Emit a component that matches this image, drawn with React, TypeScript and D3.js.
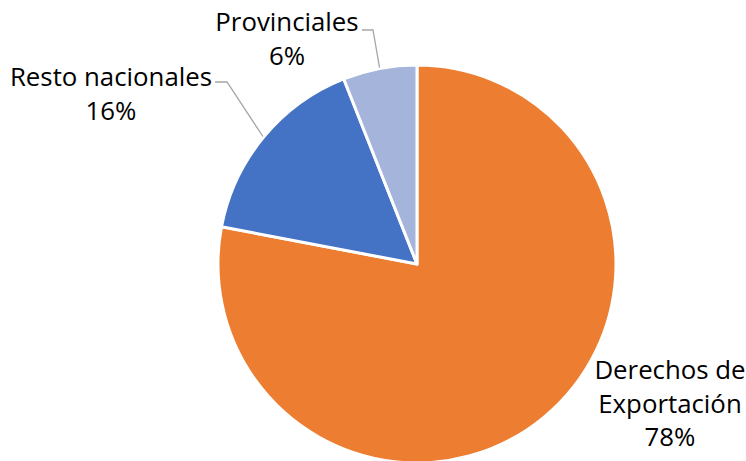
import React from "react";
import * as d3 from "d3";

const categories = ["Derechos de Exportación", "Resto nacionales", "Provinciales"];
const values = [78, 16, 6];
const colors = ["#ED7D31", "#4472C4", "#A5B4DB"];
const labelLines = [["Derechos de", "Exportación", "78%"], ["Resto nacionales", "16%"], ["Provinciales", "6%"]];
// label anchor (center x, first line center y) and leader elbow
const labelPos = [
  { x: 670, y: 370, elbow: null as null | [number, number], start: null as null | [number, number] },
  { x: 111, y: 77, elbow: [227, 82] as [number, number], start: [215, 82] as [number, number] },
  { x: 287, y: 22, elbow: [373, 30] as [number, number], start: [362, 30] as [number, number] },
];

export default function App() {
  const W = 746, H = 461;
  const cx = 417, cy = 264, r = 199;
  const pie = d3.pie<number>().sort(null).value((d) => d)(values);
  const arc = d3.arc<d3.PieArcDatum<number>>().innerRadius(0).outerRadius(r);
  const edge = d3.arc<d3.PieArcDatum<number>>().innerRadius(r + 1).outerRadius(r + 1);
  const fontFamily = "'Open Sans', sans-serif";
  const lh = 33.5;
  return (
    <svg width={W} height={H} style={{ position: "absolute", left: 0, top: 0, background: "#fff" }}>
      <g transform={`translate(${cx},${cy})`}>
        {pie.map((p, i) => (
          <path key={i} d={arc(p) || ""} fill={colors[i]} stroke="#fff" strokeWidth={3} strokeLinejoin="round" />
        ))}
      </g>
      {pie.map((p, i) => {
        const lp = labelPos[i];
        if (!lp.elbow || !lp.start) return null;
        const [ex, ey] = edge.centroid(p);
        return (
          <polyline
            key={"l" + i}
            points={`${lp.start[0]},${lp.start[1]} ${lp.elbow[0]},${lp.elbow[1]} ${cx + ex},${cy + ey}`}
            fill="none"
            stroke="#A6A6A6"
            strokeWidth={1.3}
          />
        );
      })}
      {labelLines.map((lines, i) => (
        <text key={"t" + i} textAnchor="middle" fontFamily={fontFamily} fontSize={25.8} fill="#000">
          {lines.map((ln, j) => (
            <tspan key={j} x={labelPos[i].x} y={labelPos[i].y + j * lh} dy="0.35em">
              {ln}
            </tspan>
          ))}
        </text>
      ))}
    </svg>
  );
}
